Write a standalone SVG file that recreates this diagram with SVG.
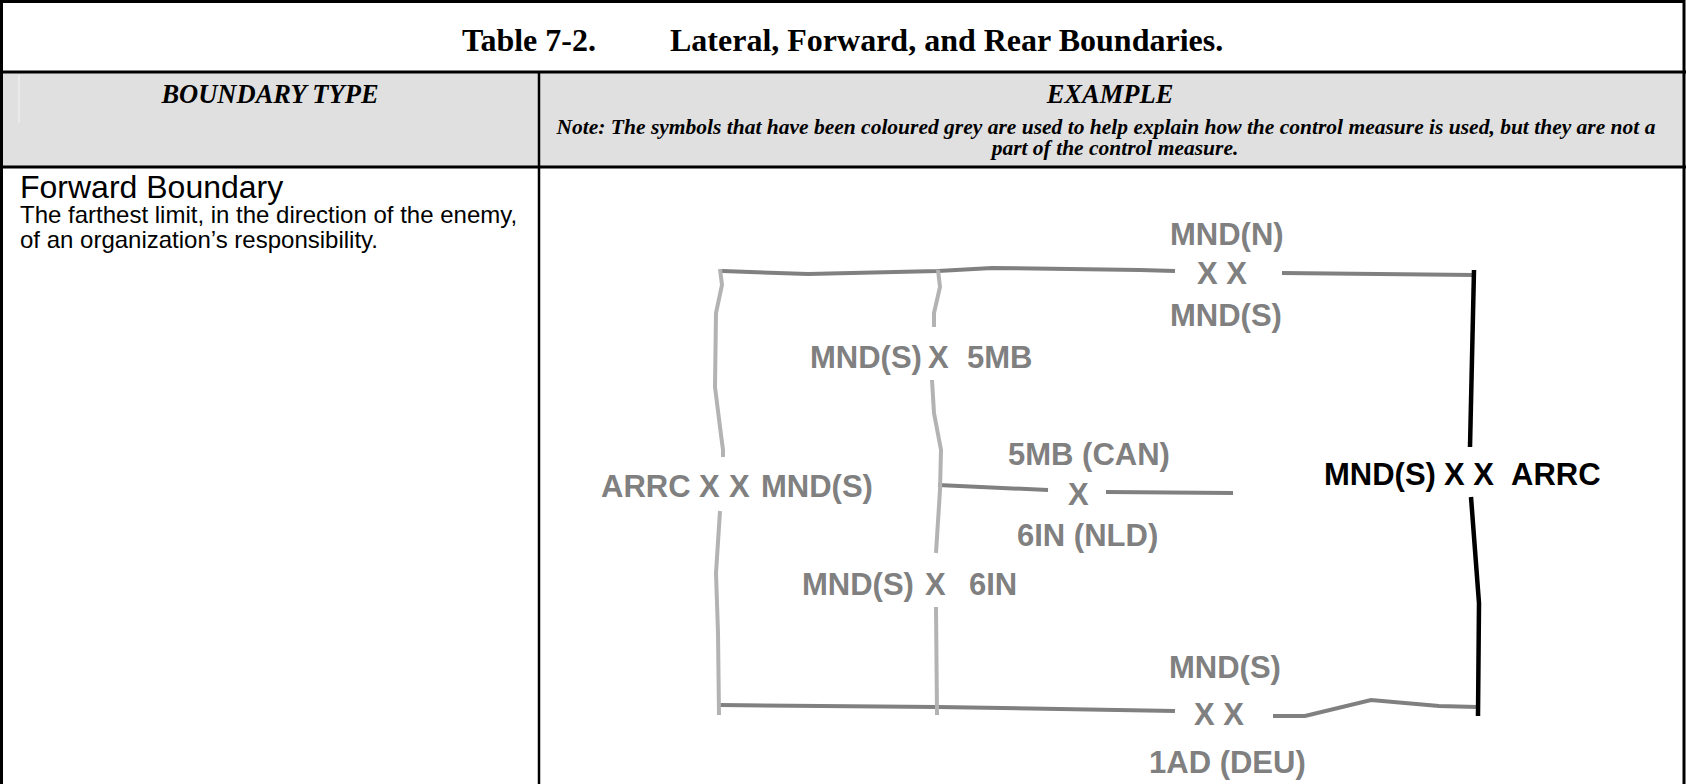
<svg xmlns="http://www.w3.org/2000/svg" width="1686" height="784" viewBox="0 0 1686 784">
<defs>
<style>
.title{font-family:"Liberation Serif","Times New Roman",serif;font-weight:bold;font-size:32px;fill:#000}
.hdr{font-family:"Liberation Serif","Times New Roman",serif;font-weight:bold;font-style:italic;font-size:26.5px;fill:#000}
.note{font-family:"Liberation Serif","Times New Roman",serif;font-weight:bold;font-style:italic;font-size:21.5px;fill:#000}
.name{font-family:"Liberation Sans",Arial,sans-serif;font-size:32px;fill:#000}
.desc{font-family:"Liberation Sans",Arial,sans-serif;font-size:24px;fill:#000}
.lbl{font-family:"Liberation Sans",Arial,sans-serif;font-weight:bold;font-size:31px;fill:#808080}
.lblk{font-family:"Liberation Sans",Arial,sans-serif;font-weight:bold;font-size:31px;fill:#000}
.dk{fill:none;stroke:#808080;stroke-width:4}
.lt{fill:none;stroke:#b3b3b3;stroke-width:4}
.bk{fill:none;stroke:#000;stroke-width:4.5}
.grid{fill:none;stroke:#000;stroke-width:3}
</style>
</defs>
<rect width="1686" height="784" fill="#fff"/>
<g id="table">
<rect x="1.5" y="73" width="1682" height="95" fill="#e0e0e0"/>
<line x1="19" y1="75" x2="19" y2="123" stroke="#eeeeee" stroke-width="1.5"/>
<rect x="1.5" y="1.5" width="1682.5" height="820" class="grid"/>
<line x1="0" y1="72" x2="1686" y2="72" class="grid"/>
<line x1="0" y1="167" x2="1686" y2="167" class="grid"/>
<line x1="539" y1="72" x2="539" y2="784" stroke="#000" stroke-width="2.5"/>
</g>
<g id="title">
<text class="title" x="462" y="51">Table 7-2.</text>
<text class="title" x="670" y="51">Lateral, Forward, and Rear Boundaries.</text>
</g>
<g id="header">
<text class="hdr" x="270" y="103" text-anchor="middle">BOUNDARY TYPE</text>
<text class="hdr" x="1110" y="103" text-anchor="middle">EXAMPLE</text>
<text class="note" x="1106" y="134" text-anchor="middle">Note: The symbols that have been coloured grey are used to help explain how the control measure is used, but they are not a</text>
<text class="note" x="1115" y="155" text-anchor="middle">part of the control measure.</text>
</g>
<g id="boundary-type">
<text class="name" x="20" y="198">Forward Boundary</text>
<text class="desc" x="20" y="223">The farthest limit, in the direction of the enemy,</text>
<text class="desc" x="20" y="248">of an organization’s responsibility.</text>
</g>
<g id="connectors">
<path class="dk" d="M722,271 L808,274 L938,271 L992,268 L1140,270 L1175,271"/>
<path class="dk" d="M1282,273 L1474,275"/>
<path class="dk" d="M938,485 L1048,490"/>
<path class="dk" d="M1106,492 L1233,493"/>
<path class="dk" d="M720,705 L938,707 L1175,711"/>
<path class="dk" d="M1273,716 L1305,716 L1371,700 L1439,706 L1477,707"/>
<path class="lt" d="M720,269 L722,285 L716,313 L715,387 L720,427 L723,450 L723,457"/>
<path class="lt" d="M720,511 L716,573 L718,633 L719,715"/>
<path class="lt" d="M938,270 L940,287 L934,313 L934,327"/>
<path class="lt" d="M932,380 L934,413 L941,450 L940,490 L936,553"/>
<path class="lt" d="M936,607 L937,715"/>
<path class="bk" d="M1474,270 L1470,447"/>
<path class="bk" d="M1471,497 L1479,603 L1478,716"/>
</g>
<g id="label-forward-top">
<text class="lbl" x="1170" y="245">MND(N)</text>
<text class="lbl" x="1197" y="284">X X</text>
<text class="lbl" x="1170" y="326">MND(S)</text>
</g>
<g id="label-5mb">
<text class="lbl" x="810" y="368">MND(S)</text>
<text class="lbl" x="928" y="368">X</text>
<text class="lbl" x="967" y="368">5MB</text>
</g>
<g id="label-can-nld">
<text class="lbl" x="1008" y="465">5MB (CAN)</text>
<text class="lbl" x="1068" y="505">X</text>
<text class="lbl" x="1017" y="546">6IN (NLD)</text>
</g>
<g id="label-arrc-left">
<text class="lbl" x="601" y="497">ARRC</text>
<text class="lbl" x="699" y="497">X</text>
<text class="lbl" x="729" y="497">X</text>
<text class="lbl" x="761" y="497">MND(S)</text>
</g>
<g id="label-6in">
<text class="lbl" x="802" y="595">MND(S)</text>
<text class="lbl" x="925" y="595">X</text>
<text class="lbl" x="969" y="595">6IN</text>
</g>
<g id="label-rear">
<text class="lbl" x="1169" y="678">MND(S)</text>
<text class="lbl" x="1194" y="725">X X</text>
<text class="lbl" x="1149" y="773">1AD (DEU)</text>
</g>
<g id="label-forward-boundary">
<text class="lblk" x="1324" y="485">MND(S)</text>
<text class="lblk" x="1444" y="485">X X</text>
<text class="lblk" x="1511" y="485">ARRC</text>
</g>
</svg>
